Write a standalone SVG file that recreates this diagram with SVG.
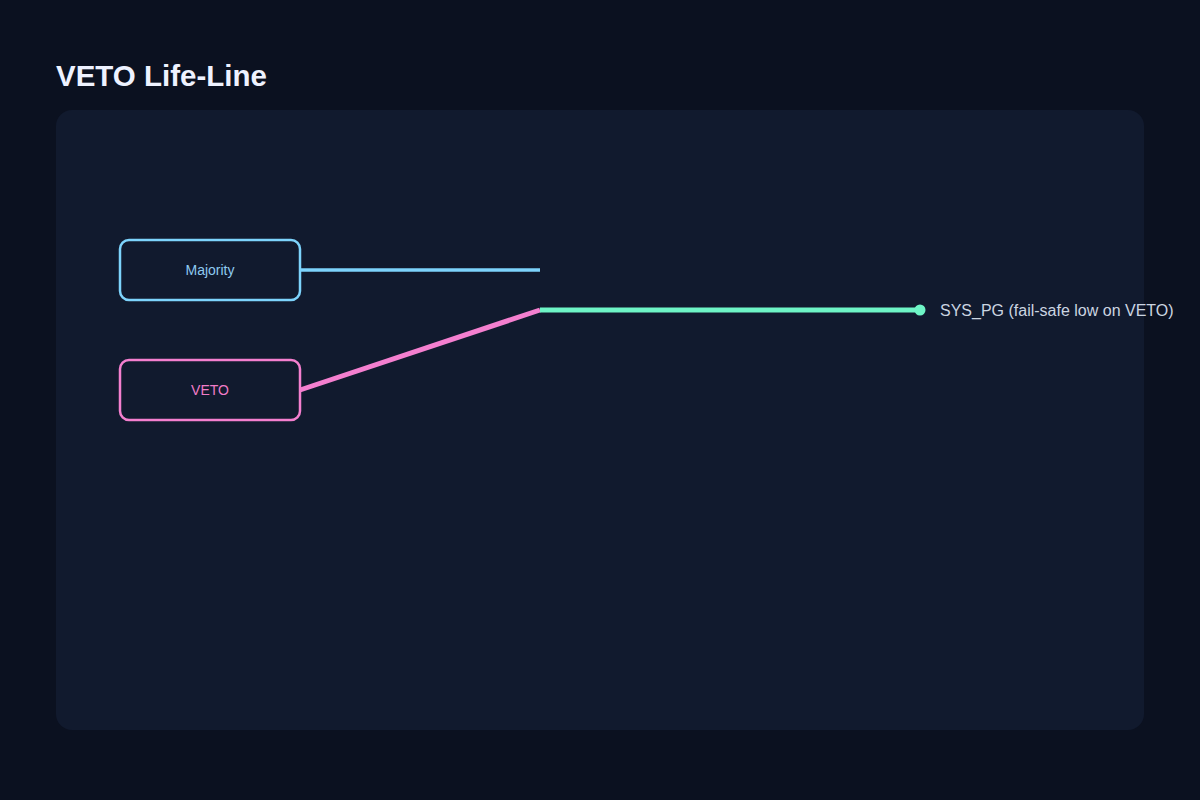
<svg xmlns="http://www.w3.org/2000/svg" width="1200" height="800" viewBox="0 0 1200 800">
<style>
.title{font-family:"Liberation Sans",Arial,sans-serif;font-size:29.5px;font-weight:bold;fill:#eef2ff}
.node rect{fill:#111a2e;stroke-width:2.5}
.lbl{font-family:"Liberation Sans",Arial,sans-serif;font-size:14px;text-anchor:middle}
.out{font-family:"Liberation Sans",Arial,sans-serif;font-size:16px;fill:#cbd5e1}
</style>
<rect width="1200" height="800" fill="#0b1120"/>
<text class="title" x="56" y="86">VETO Life-Line</text>
<rect x="56" y="110" width="1088" height="620" rx="16" fill="#111a2e"/>
<g id="connectors" fill="none">
<line x1="300" y1="270" x2="540" y2="270" stroke="#7dd3fc" stroke-width="3.5"/>
<line x1="300" y1="390" x2="540" y2="310" stroke="#f47fcf" stroke-width="5"/>
<line x1="540" y1="310" x2="920" y2="310" stroke="#6ef5c6" stroke-width="5"/>
<circle cx="920" cy="310" r="5.5" fill="#6ef5c6"/>
</g>
<g id="majority" class="node">
<rect x="120" y="240" width="180" height="60" rx="9" stroke="#7dd3fc"/>
<text class="lbl" x="210" y="275" fill="#8ecaf0">Majority</text>
</g>
<g id="veto" class="node">
<rect x="120" y="360" width="180" height="60" rx="9" stroke="#f47fcf"/>
<text class="lbl" x="210" y="395" fill="#f07cc8">VETO</text>
</g>
<g id="sys_pg">
<text class="out" x="940" y="316">SYS_PG (fail-safe low on VETO)</text>
</g>
</svg>
